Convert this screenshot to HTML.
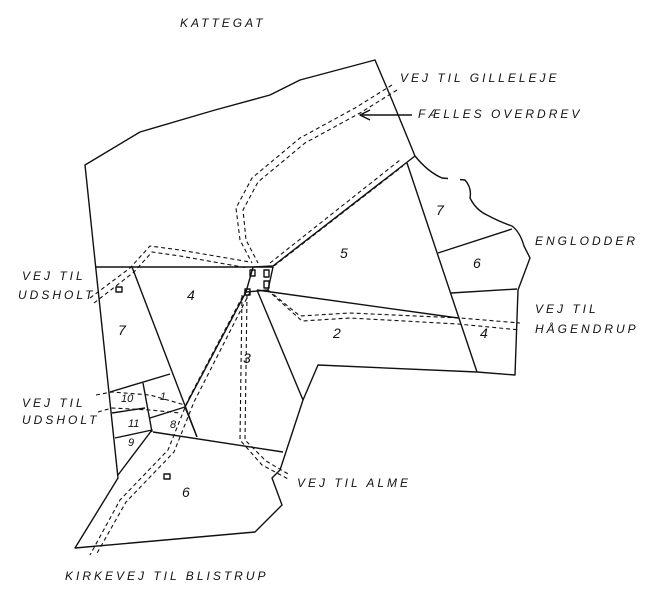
<!DOCTYPE html>
<html><head><meta charset="utf-8"><style>
html,body{margin:0;padding:0;background:#fff}
svg{display:block}
text{font-family:"Liberation Sans",sans-serif;font-style:italic;fill:#111}
.l{font-size:12px;letter-spacing:3px}
.n{font-size:14px}
</style></head><body>
<svg width="654" height="590" viewBox="0 0 654 590" xmlns="http://www.w3.org/2000/svg">
<rect width="654" height="590" fill="#fff"/>
<g fill="none" stroke="#111" stroke-width="1.4" stroke-linejoin="round">
<!-- outer boundary -->
<path d="M85,165 L140,132 L215,110 L270,95 L300,80 L375,60 L392,100 L415,156 Q428,172 442,178 L465,180 Q472,188 470,198 Q476,210 487,215 Q500,222 512,226 Q520,232 524,246 L530,258 L518,290 L515,375 L477,372 L318,365 L303,400 L280,470 L272,478 L282,505 L255,532 L75,548 L118,478 L96,270 Z"/>
<!-- internal -->
<path d="M95,267 L253,267 L273,266 L415,156"/>
<path d="M253,267 L273,267 L268,290 L246,292 Z"/>
<path d="M257,290 L458,318"/>
<path d="M407,163 L477,372"/>
<path d="M438,253 L512,229"/>
<path d="M451,293 L517,289"/>
<path d="M132,267 L197,437"/>
<path d="M246,292 L185,407 L197,437"/>
<path d="M257,290 L303,400"/>
<path d="M153,432 L283,452"/>
<path d="M110,392 L170,374"/>
<path d="M143,383 L152,432"/>
<path d="M112,413 L145,408"/>
<path d="M150,418 L185,407"/>
<path d="M115,438 L152,430 L118,475"/>
<rect x="116" y="287" width="6" height="5"/>
<rect x="164" y="474" width="6" height="5"/>
<rect x="250" y="270" width="5" height="6"/>
<rect x="264" y="270" width="5" height="7"/>
<rect x="264" y="281" width="5" height="7"/>
<rect x="245" y="289" width="5" height="6"/>
<!-- arrow -->
<path d="M412,115 L362,115"/>
<path d="M370,110 L360,115 L370,120"/>
</g>
<rect x="448" y="174" width="12" height="8" fill="#fff"/>
<!-- roads -->
<g fill="none" stroke="#111" stroke-width="1.1" stroke-dasharray="4,3">
<path d="M392,85 L355,108 L300,138 L252,178 L236,208 L240,240 L252,263"/>
<path d="M397,90 L360,113 L305,143 L258,182 L243,210 L246,240 L258,263"/>
<path d="M270,263 L400,160"/>
<path d="M274,266 L403,166"/>
<path d="M90,298 L130,268 L150,246 L180,250 L250,262"/>
<path d="M94,303 L134,272 L152,252 L180,256 L248,268"/>
<path d="M268,290 L300,316 L350,313 L460,318 L520,323"/>
<path d="M272,294 L302,321 L350,318 L458,324 L520,330"/>
<path d="M96,395 L112,392 L150,395 L185,405"/>
<path d="M98,412 L112,408 L150,410 L180,413"/>
<path d="M246,290 L188,400 L168,450 L120,500 L90,555"/>
<path d="M250,292 L194,402 L174,452 L126,502 L96,555"/>
<path d="M242,295 L240,440 L262,465 L290,480"/>
<path d="M247,295 L245,440 L266,461 L290,475"/>
</g>
<!-- labels -->
<text class="l" x="180" y="27">KATTEGAT</text>
<text class="l" x="400" y="82">VEJ TIL GILLELEJE</text>
<text class="l" x="418" y="118">FÆLLES OVERDREV</text>
<text class="l" x="535" y="245">ENGLODDER</text>
<text class="l" x="535" y="313">VEJ TIL</text>
<text class="l" x="535" y="333">HÅGENDRUP</text>
<text class="l" x="22" y="280">VEJ TIL</text>
<text class="l" x="18" y="299">UDSHOLT</text>
<text class="l" x="22" y="407">VEJ TIL</text>
<text class="l" x="22" y="424">UDSHOLT</text>
<text class="l" x="297" y="487">VEJ TIL ALME</text>
<text class="l" x="65" y="580">KIRKEVEJ TIL BLISTRUP</text>
<text class="n" x="187" y="300">4</text>
<text class="n" x="118" y="335">7</text>
<text class="n" x="340" y="258">5</text>
<text class="n" x="436" y="215">7</text>
<text class="n" x="473" y="268">6</text>
<text class="n" x="480" y="338">4</text>
<text class="n" x="333" y="338">2</text>
<text class="n" x="243" y="363">3</text>
<text class="n" x="182" y="497">6</text>
<text class="n" style="font-size:11px" x="121" y="402">10</text>
<text class="n" style="font-size:11px" x="160" y="400">1</text>
<text class="n" style="font-size:11px" x="128" y="427">11</text>
<text class="n" style="font-size:11px" x="170" y="428">8</text>
<text class="n" style="font-size:11px" x="128" y="446">9</text>
</svg>
</body></html>
